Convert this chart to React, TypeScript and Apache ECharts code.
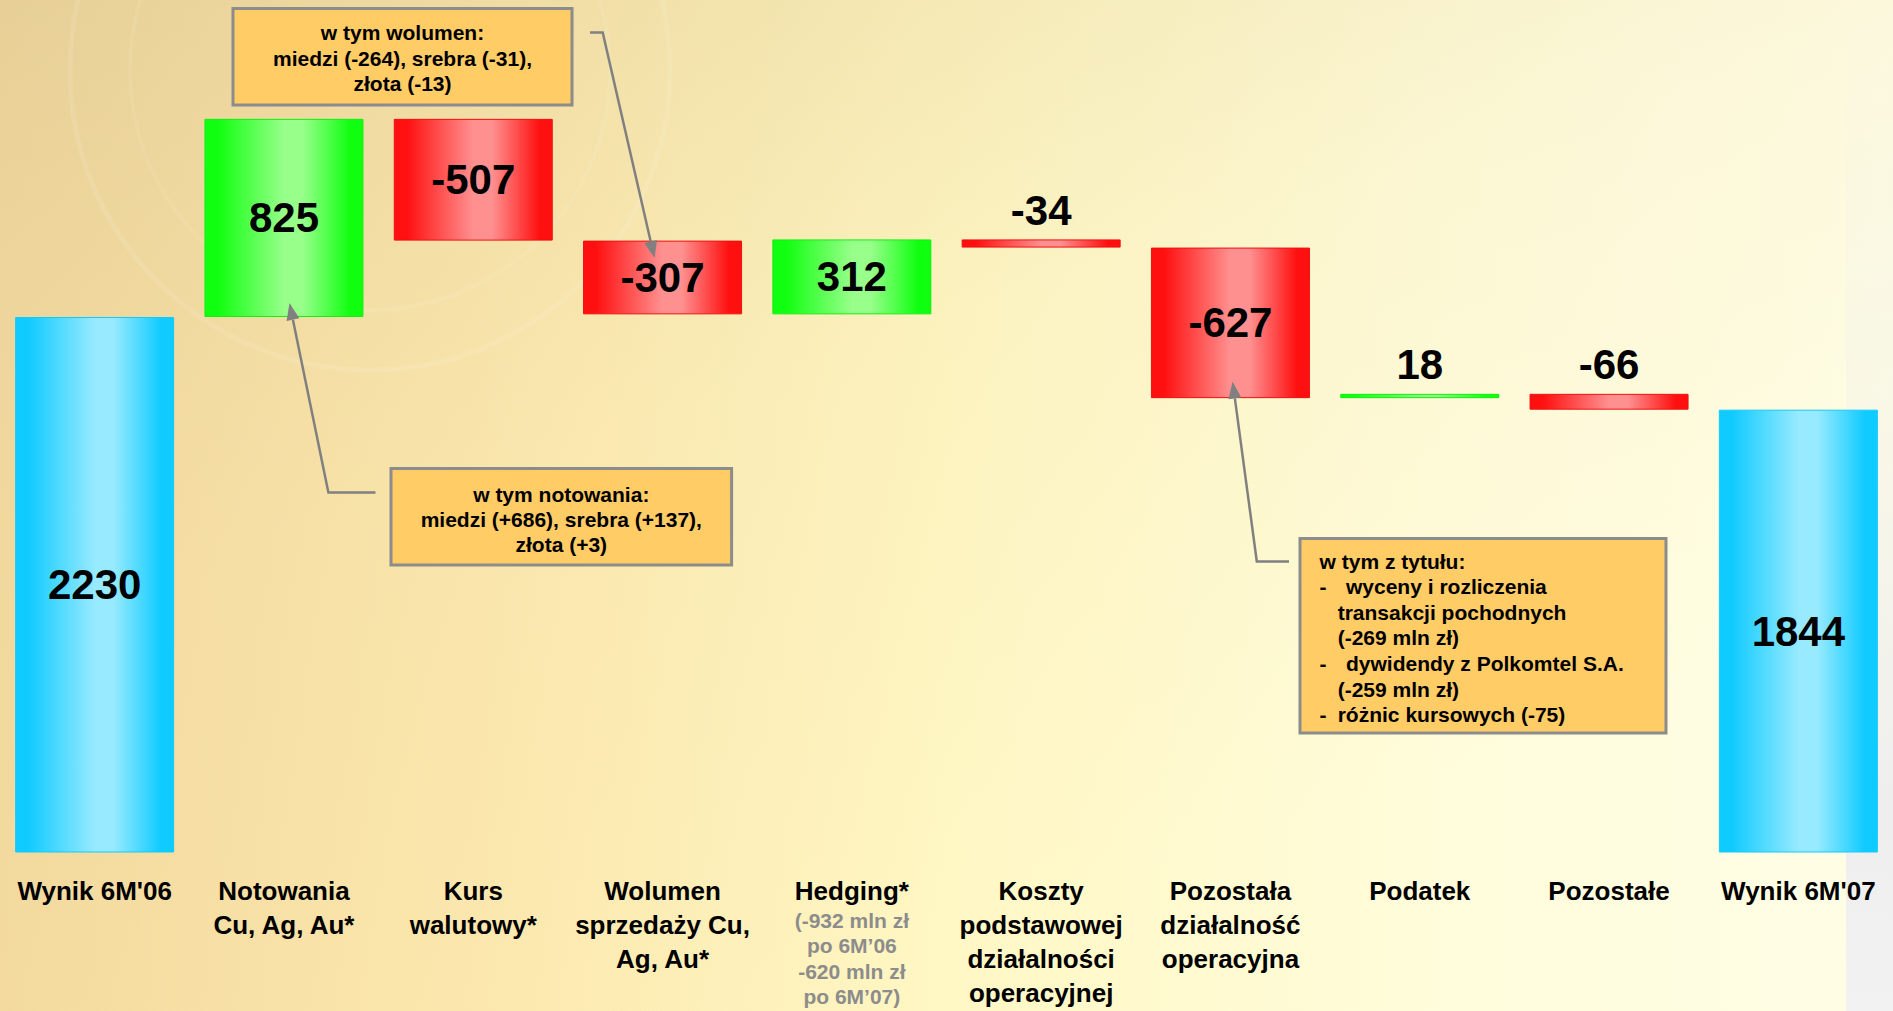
import React, { useEffect, useRef } from "react";
import * as echarts from "echarts";

// ---- data ----
const categories = [
  "Wynik 6M'06",
  "Notowania\nCu, Ag, Au*",
  "Kurs\nwalutowy*",
  "Wolumen\nsprzedaży Cu,\nAg, Au*",
  "Hedging*",
  "Koszty\npodstawowej\ndziałalności\noperacyjnej",
  "Pozostała\ndziałalność\noperacyjna",
  "Podatek",
  "Pozostałe",
  "Wynik 6M'07",
];
const categoryNotes = ["", "", "", "", "(-932 mln zł\npo 6M’06\n-620 mln zł\npo 6M’07)", "", "", "", "", ""];
const values = [2230, 825, -507, -307, 312, -34, -627, 18, -66, 1844];
const isTotal = [true, false, false, false, false, false, false, false, false, true];

const noteWolumen = ["w tym wolumen:", "miedzi (-264), srebra (-31),", "złota (-13)"];
const noteNotowania = ["w tym notowania:", "miedzi (+686), srebra (+137),", "złota (+3)"];
const noteTytulu = [
  "w tym z tytułu:",
  "wyceny i rozliczenia",
  "transakcji pochodnych",
  "(-269 mln zł)",
  "dywidendy z Polkomtel S.A.",
  "(-259 mln zł)",
  "różnic kursowych (-75)",
];

const FONT = "'Liberation Sans', Arial, Helvetica, sans-serif";

function grad(edge: string, light: string) {
  return {
    type: "linear",
    x: 0,
    y: 0,
    x2: 1,
    y2: 0,
    colorStops: [
      { offset: 0, color: edge },
      { offset: 0.08, color: edge },
      { offset: 0.5, color: light },
      { offset: 0.62, color: light },
      { offset: 0.92, color: edge },
      { offset: 1, color: edge },
    ],
  };
}

function arrow(points: number[][], color = "#808080") {
  const n = points.length;
  const tip = points[n - 1];
  const prev = points[n - 2];
  const dx = tip[0] - prev[0];
  const dy = tip[1] - prev[1];
  const len = Math.sqrt(dx * dx + dy * dy);
  const ux = dx / len;
  const uy = dy / len;
  const L = 17;
  const W = 6.5;
  const bx = tip[0] - ux * L;
  const by = tip[1] - uy * L;
  const linePts = points.slice(0, n - 1).concat([[bx, by]]);
  return [
    {
      type: "polyline",
      shape: { points: linePts },
      style: { stroke: color, lineWidth: 2.5, fill: null },
      z: 100,
      silent: true,
    },
    {
      type: "polygon",
      shape: {
        points: [
          tip,
          [bx - uy * W, by + ux * W],
          [bx + uy * W, by - ux * W],
        ],
      },
      style: { fill: color },
      z: 100,
      silent: true,
    },
  ];
}

function box(x: number, y: number, w: number, h: number) {
  return {
    type: "rect",
    shape: { x, y, width: w, height: h },
    style: { fill: "#FFCC66", stroke: "#8C8C8C", lineWidth: 3 },
    z: 50,
    silent: true,
  };
}

function txt(text: string, x: number, y: number, align: string) {
  return {
    type: "text",
    x,
    y,
    style: {
      text,
      fill: "#000",
      font: `bold 21px ${FONT}`,
      align,
      verticalAlign: "middle",
      textAlign: align,
      textVerticalAlign: "middle",
    },
    z: 60,
    silent: true,
  };
}

export default function App() {
  const ref = useRef<HTMLDivElement>(null);

  useEffect(() => {
    if (!ref.current) return;
    const chart = echarts.init(ref.current, undefined, { renderer: "svg" });

    const bases: number[] = [];
    const heights: number[] = [];
    let run = 0;
    values.forEach((v, i) => {
      if (isTotal[i]) {
        bases.push(0);
        heights.push(v);
        run = v;
      } else {
        const end = run + v;
        bases.push(Math.min(run, end));
        heights.push(Math.abs(v));
        run = end;
      }
    });

    const cyan = grad("#10CBFF", "#97EAFF");
    const green = grad("#10FF10", "#97FF8A");
    const red = grad("#FF1010", "#FF9090");

    const valueData = heights.map((h, i) => {
      const v = values[i];
      const fill = isTotal[i] ? cyan : v >= 0 ? green : red;
      const edge = isTotal[i] ? "#10CBFF" : v >= 0 ? "#10F010" : "#F01010";
      const small = Math.abs(v) < 100;
      return {
        value: h,
        itemStyle: { color: fill, borderColor: edge, borderWidth: 1 },
        label: {
          show: true,
          position: small ? "top" : "inside",
          distance: 8,
          formatter: String(v),
          fontSize: 42,
          fontWeight: "bold",
          fontFamily: FONT,
          color: "#000",
        },
      };
    });

    const bgW = 1893;
    const bgH = 1011;

    const graphics: any[] = [
      {
        type: "rect",
        shape: { x: 0, y: 0, width: bgW, height: bgH },
        style: {
          fill: {
            type: "linear",
            x: 0,
            y: 0,
            x2: 1,
            y2: 0,
            colorStops: [
              { offset: 0, color: "#F4DA9F" },
              { offset: 0.25, color: "#FCE8AE" },
              { offset: 0.5, color: "#FFF7C4" },
              { offset: 0.75, color: "#FFFCDA" },
              { offset: 1, color: "#FFFEE6" },
            ],
          },
        },
        z: -100,
        silent: true,
      },
      {
        type: "rect",
        shape: { x: 0, y: 0, width: bgW, height: bgH },
        style: {
          fill: {
            type: "linear",
            x: 0,
            y: 0,
            x2: 0.55,
            y2: 0.9,
            colorStops: [
              { offset: 0, color: "rgba(215,195,140,0.45)" },
              { offset: 0.5, color: "rgba(225,205,150,0.12)" },
              { offset: 1, color: "rgba(225,205,150,0)" },
            ],
          },
        },
        z: -99,
        silent: true,
      },
      {
        type: "rect",
        shape: { x: 1846, y: 0, width: 47, height: bgH },
        style: {
          fill: {
            type: "linear",
            x: 0,
            y: 0,
            x2: 0,
            y2: 1,
            colorStops: [
              { offset: 0, color: "rgba(238,238,238,0)" },
              { offset: 0.4, color: "rgba(238,238,238,0.3)" },
              { offset: 0.8, color: "rgba(238,238,238,1)" },
              { offset: 1, color: "rgba(242,242,242,1)" },
            ],
          },
        },
        z: -98,
        silent: true,
      },
      {
        type: "circle",
        shape: { cx: 370, cy: 70, r: 300 },
        style: { fill: null, stroke: "rgba(255,255,255,0.1)", lineWidth: 5 },
        z: -97,
        silent: true,
      },
      {
        type: "circle",
        shape: { cx: 370, cy: 70, r: 240 },
        style: { fill: null, stroke: "rgba(255,255,255,0.07)", lineWidth: 4 },
        z: -97,
        silent: true,
      },
      // callout boxes
      box(233, 8.5, 339, 96.5),
      ...noteWolumen.map((t, k) => txt(t, 402.5, 32.6 + k * 25.4, "center")),
      box(391, 468.5, 340.6, 96.5),
      ...noteNotowania.map((t, k) => txt(t, 561.3, 494 + k * 25.3, "center")),
      box(1300, 538.5, 366, 194.5),
      txt(noteTytulu[0], 1319.6, 561, "left"),
      txt("-", 1319.6, 586.6, "left"),
      txt(noteTytulu[1], 1346, 586.6, "left"),
      txt(noteTytulu[2], 1337.7, 612.2, "left"),
      txt(noteTytulu[3], 1337.7, 637.8, "left"),
      txt("-", 1319.6, 663.4, "left"),
      txt(noteTytulu[4], 1346, 663.4, "left"),
      txt(noteTytulu[5], 1337.7, 689, "left"),
      txt("-", 1319.6, 714.6, "left"),
      txt(noteTytulu[6], 1337.7, 714.6, "left"),
      // arrows
      ...arrow([
        [590, 32.5],
        [602.7, 32.5],
        [654.5, 258],
      ]),
      ...arrow([
        [375.5, 492.5],
        [328.4, 492.5],
        [289.5, 303],
      ]),
      ...arrow([
        [1289, 561.4],
        [1256.8, 561.4],
        [1232.6, 381.5],
      ]),
    ];

    chart.setOption({
      animation: false,
      textStyle: { fontFamily: FONT },
      grid: { left: -4, right: -1, top: 0, bottom: 158.5, containLabel: false },
      xAxis: {
        type: "category",
        data: categories,
        axisLine: { show: false },
        axisTick: { show: false },
        splitLine: { show: false },
        axisLabel: {
          interval: 0,
          margin: 21,
          fontSize: 26,
          fontWeight: "bold",
          fontFamily: FONT,
          color: "#000",
          lineHeight: 34,
          align: "center",
          formatter: (v: string, i: number) =>
            categoryNotes[i] ? `${v}\n{g|${categoryNotes[i]}}` : v,
          rich: {
            g: {
              fontSize: 21,
              fontWeight: "bold",
              fontFamily: FONT,
              color: "#8C8C8C",
              lineHeight: 25.5,
            },
          },
        },
      },
      yAxis: { type: "value", min: 0, max: 3550, show: false },
      series: [
        {
          type: "bar",
          stack: "w",
          data: bases,
          barWidth: 159,
          itemStyle: { color: "rgba(0,0,0,0)" },
          silent: true,
          z: 2,
        },
        {
          type: "bar",
          stack: "w",
          data: valueData,
          barWidth: 159,
          z: 3,
        },
      ],
      graphic: { elements: graphics },
    });

    return () => chart.dispose();
  }, []);

  return (
    <div
      ref={ref}
      style={{ position: "absolute", left: 0, top: 0, width: 1893, height: 1011 }}
    />
  );
}
